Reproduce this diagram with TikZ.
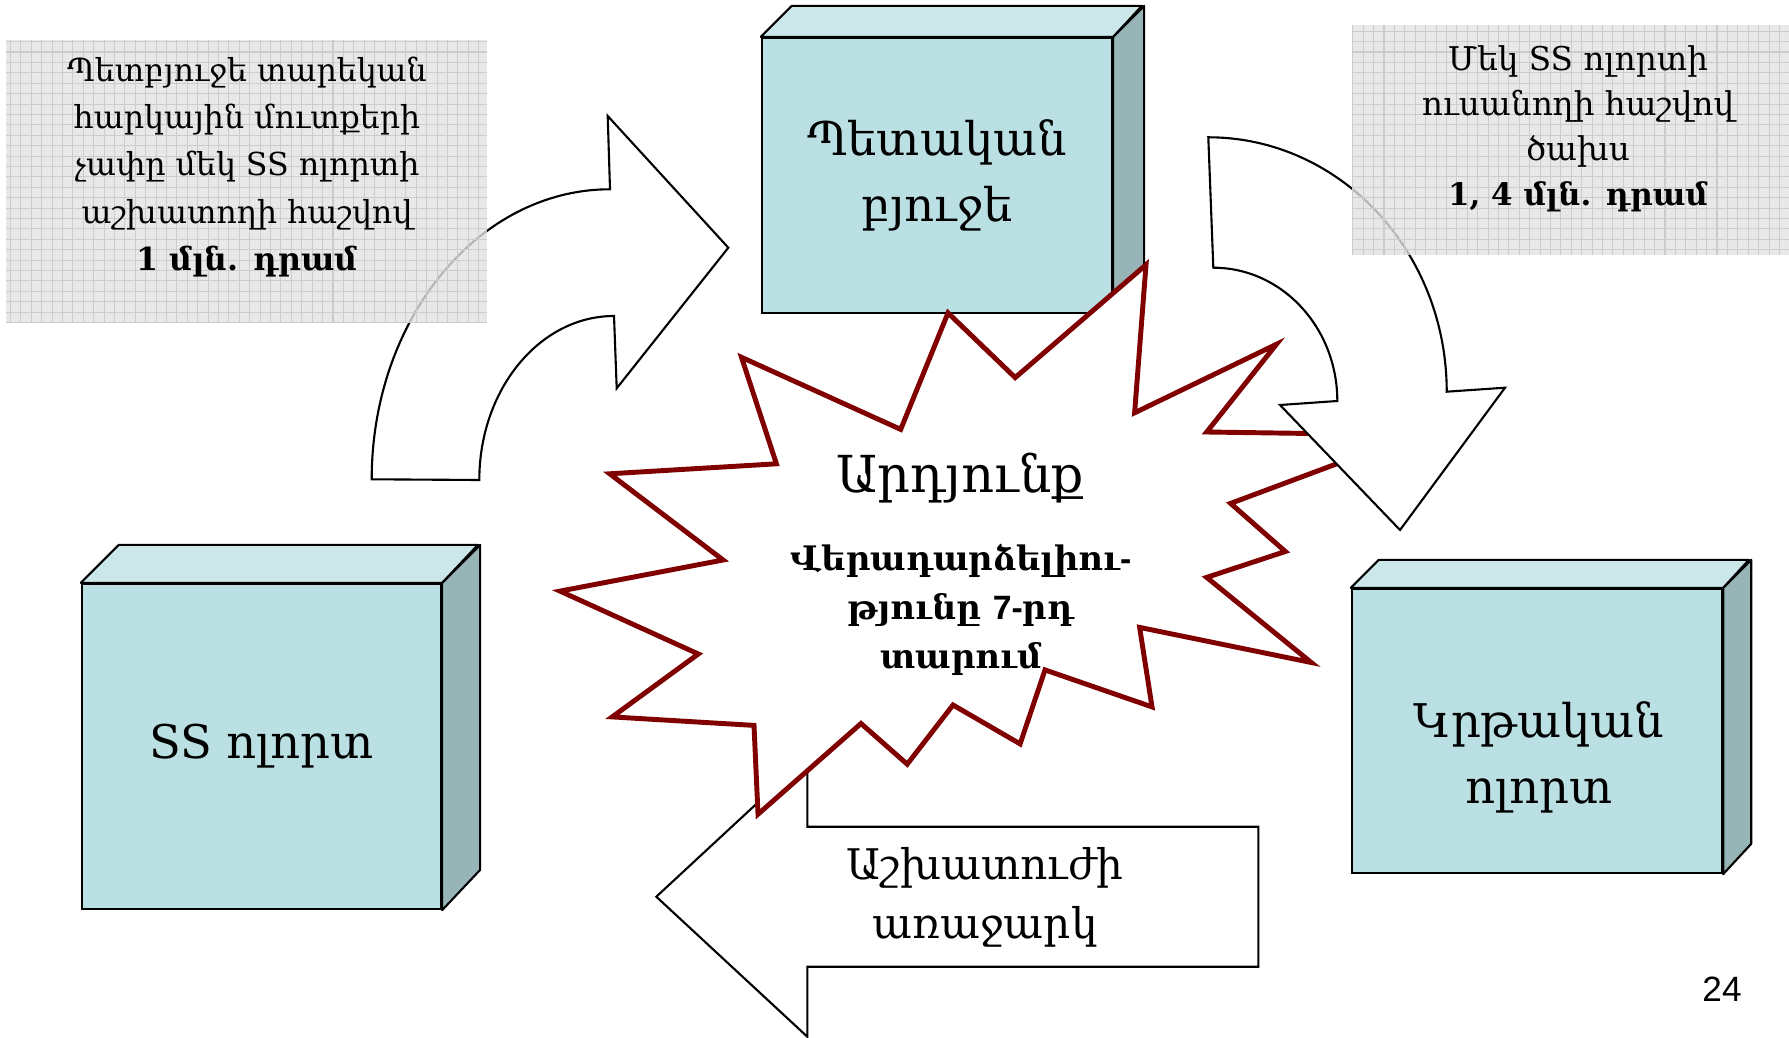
\documentclass[tikz,border=0pt]{standalone}
\usepackage{fontspec}
\setmainfont{DejaVu Serif}
\newfontfamily\arialfont{Liberation Sans}
\usetikzlibrary{positioning}

\definecolor{faceblue}{RGB}{186,224,227}
\definecolor{topblue}{RGB}{203,231,234}
\definecolor{sideblue}{RGB}{151,180,183}
\definecolor{notegray}{RGB}{226,226,226}
\definecolor{gridgray}{RGB}{204,204,204}
\definecolor{burstred}{RGB}{128,0,0}

\newcommand\boxfont{\fontsize{13.2}{18.8}\selectfont}
\newcommand\notefont{\fontsize{9}{13.4}\selectfont}
\newcommand\notefontb{\fontsize{9.3}{12.8}\selectfont}
\newcommand\titlefont{\fontsize{14.5}{16}\selectfont}
\newcommand\burstfont{\fontsize{9.6}{14}\selectfont\bfseries}
\newcommand\arrowfont{\fontsize{12}{16.7}\selectfont}

\tikzset{
  cubefront/.style={draw=black, line width=0.6pt, fill=faceblue, inner sep=0pt, align=center, font=\boxfont},
  cubetop/.style={draw=black, line width=0.6pt, fill=topblue, line join=round},
  cubeside/.style={draw=black, line width=0.6pt, fill=sideblue, line join=round},
  cubetext/.style={inner sep=0pt, align=center, font=\boxfont},
  blockarrow/.style={draw=black, line width=0.6pt, fill=white, line join=miter},
  burst/.style={draw=burstred, line width=1.4pt, fill=white, line join=miter},
  notefill/.style={fill=notegray, fill opacity=0.8},
  gridline/.style={draw=gridgray, line width=0.3pt, step=1.04mm},
  notetext/.style={inner sep=0pt, align=center, font=\notefont},
}

\begin{document}
\begin{tikzpicture}[x=0.01cm, y=-0.01cm]
\useasboundingbox (0,0) rectangle (1789,1037);

%Curved arrow, up
\draw[blockarrow] (371.7,479.3) .. controls (371.7,319.2) and (478.5,189.3) .. (610,189.3)
  -- (607.7,116) -- (728.3,247.7) -- (616.7,388.3) -- (614,316)
  .. controls (539.6,316) and (479.3,389.5) .. (479.3,480) -- cycle;

%Labour arrow
\draw[blockarrow] (656.3,896.7) -- (807.3,756.7) -- (807.3,826.7) -- (1258.4,826.7)
  -- (1258.4,966.7) -- (807.3,966.7) -- (807.3,1036.7) -- cycle;
\node[cubetext, font=\arrowfont] (labour) at (985,897) {Աշխատուժի\\առաջարկ};

%Cubes
\node[cubefront, minimum width=35mm, minimum height=27.5mm] (budget) at (937,175.5) {Պետական\\բյուջե};
\draw[cubetop] (budget.north west) -- ++(31,-31) -- ++(350,0) -- (budget.north east) -- cycle;
\draw[cubeside] (budget.north east) -- ++(31,-31) -- ++(0,275) -- (budget.south east) -- cycle;

\node[cubefront, minimum width=35.9mm, minimum height=32.5mm] (ssField) at (261.5,746.5) {SS ոլորտ};
\draw[cubetop] (ssField.north west) -- ++(38,-38) -- ++(359,0) -- (ssField.north east) -- cycle;
\draw[cubeside] (ssField.north east) -- ++(38,-38) -- ++(0,325) -- (ssField.south east) -- cycle;

\node[cubefront, minimum width=37mm, minimum height=28.4mm] (eduField) at (1537,731) {};
\draw[cubetop] (eduField.north west) -- ++(28,-28) -- ++(370,0) -- (eduField.north east) -- cycle;
\draw[cubeside] (eduField.north east) -- ++(28,-28) -- ++(0,284) -- (eduField.south east) -- cycle;
\node[cubetext] (eduText) at (1539,757) {Կրթական\\ոլորտ};

%Burst
\draw[burst] (741.5,357.3) -- (900.7,429.4) -- (948,312.9) -- (1015.2,377.6) -- (1146,264.8)
  -- (1134.6,412.8) -- (1276.4,344.3) -- (1206.7,432) -- (1414,435) -- (1230.6,503.4)
  -- (1285.3,551.5) -- (1206.7,577.4) -- (1311.2,662.5) -- (1139.6,627.4) -- (1152,706.9)
  -- (1045,669.9) -- (1020.1,743.9) -- (953,705) -- (907.2,764.2) -- (861,723.5)
  -- (758,814.2) -- (754,725.4) -- (612.2,716.9) -- (698.3,654) -- (560,591.1)
  -- (723.1,560) -- (609.7,473.8) -- (776.4,463.8) -- cycle;
\node[cubetext, font=\titlefont] (result) at (960,478) {Արդյունք};
\node[cubetext, font=\burstfont] (reversal) at (961,610)
  {Վերադարձելիու{\arialfont -}\\թյունը {\arialfont 7-}րդ\\տարում};

%Curved arrow, down
\draw[blockarrow] (1208.3,137.3) .. controls (1339.9,137.3) and (1446.7,251.3) .. (1446.7,391.7)
  -- (1505,387.7) -- (1400,530) -- (1280,405) -- (1337.3,401)
  .. controls (1337.3,327.4) and (1281.7,267.7) .. (1213.3,267.7) -- cycle;

%Notes
\fill[notefill] (6,40) rectangle (487,323);
\draw[gridline] (6,40) grid (487,323);
\node[notetext] (taxNote) at (247,167)
  {Պետբյուջե տարեկան\\հարկային մուտքերի\\չափը մեկ SS ոլորտի\\աշխատողի հաշվով\\{\bfseries 1 մլն. դրամ}};

\fill[notefill] (1352,25) rectangle (1789,255);
\draw[gridline] (1352,25) grid (1789,255);
\node[notetext, font=\notefontb] (costNote) at (1578,129)
  {Մեկ SS ոլորտի\\ուսանողի հաշվով\\ծախս\\{\bfseries\fontsize{8.8}{12.8}\selectfont 1, 4 մլն. դրամ}};

\node[inner sep=0pt, font=\arialfont\fontsize{10}{12}\selectfont] (pageNo) at (1722,989) {24};
\end{tikzpicture}
\end{document}
